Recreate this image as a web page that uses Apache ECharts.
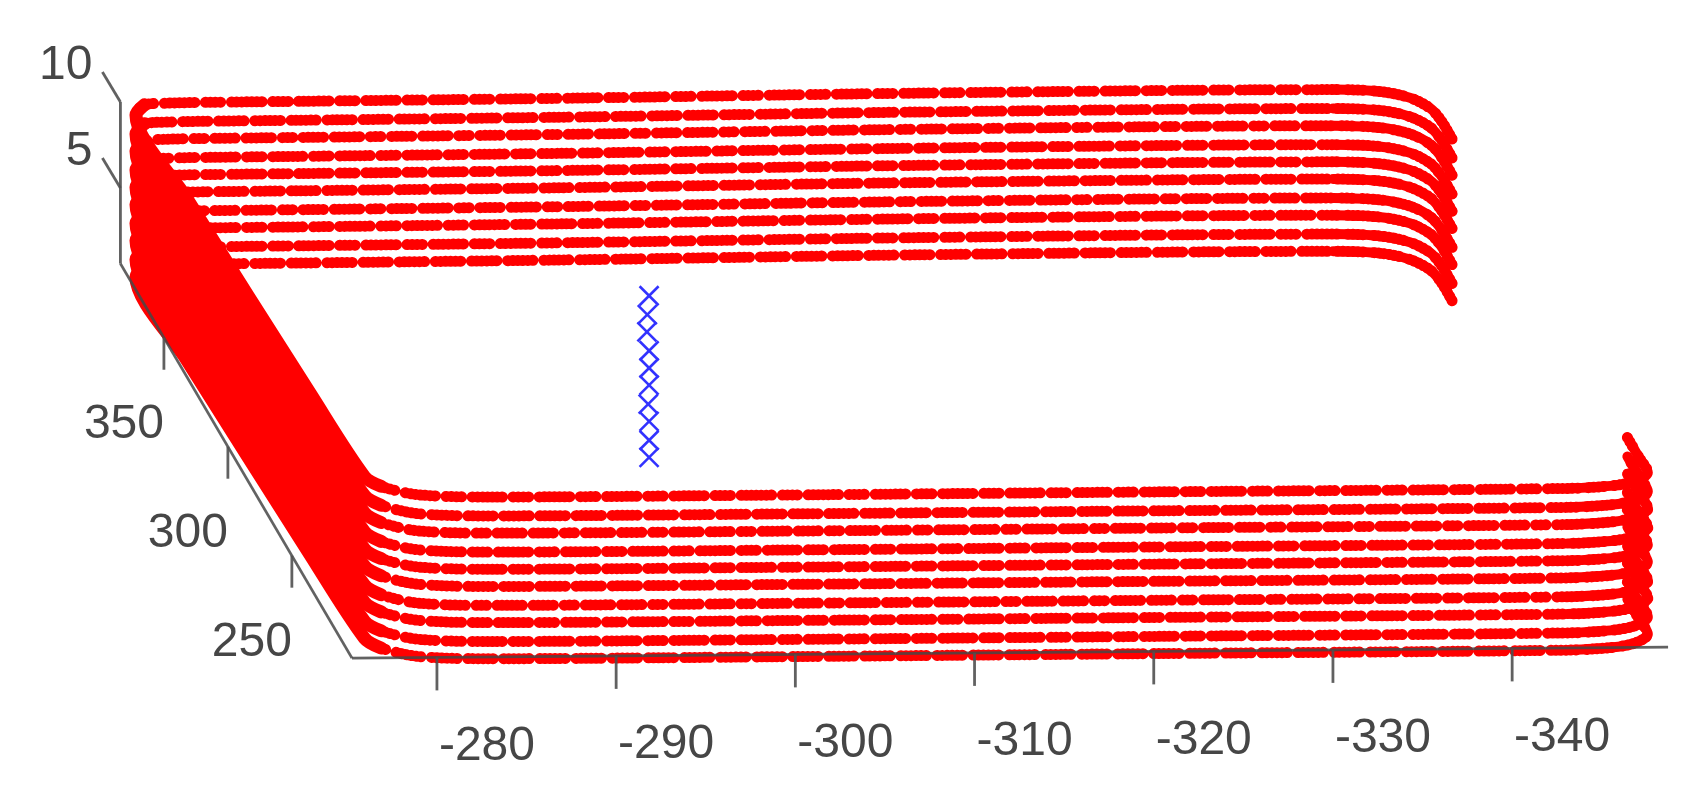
<!DOCTYPE html>
<html><head><meta charset="utf-8">
<style>html,body{margin:0;padding:0;background:#fff}#c{width:1703px;height:805px;filter:blur(0.7px)}</style>
<script src="https://cdn.jsdelivr.net/npm/echarts@6/dist/echarts.min.js"></script>
</head><body><div id="c"></div>
<script>
// ---- values ----
const xTicks = [-280,-290,-300,-310,-320,-330,-340];
const yTicks = [250,300,350];
const zTicks = [5,10];
const layerZ = [0.6,1.6,2.7,3.7,4.8,5.8,6.8,7.9,8.9,10];
// one pass of the track, upper-right end -> left band -> lower-right end
const trackX = [-348,-348,-347.8,-347,-345.5,-343,-320,-300,-285,-280,-278,-276.5,-275.7,-275.8,-276.3,-276.6,-277.2,-279,-283,-300,-320,-343,-345.5,-347,-348,-348,-348];
const trackY = [362,370,376,381,384,385,385,384,383.6,383.5,383.3,382.6,378,340,250,212,207.5,203.5,202.2,202,202,202,203,205,209,216,225];
const crossX = [-298.3,-298.3,-298.3,-298.25,-298.3,-298.3,-298.3,-298.18,-298.2,-298.3];
const crossY = [293.5,293.5,293.5,293.5,293.5,293.5,293.5,293.5,293.5,293.5];
const axisCorner = {x:-275.26, y:203, z:0.6};
const axisEnd = {x:-348.7, y:384, z:10};

// ---- projection of the 3-D view onto the plot plane ----
const shearX = 0.0714, shearZ = 0.1267, tilt = 0.00872;
function project(x,y,z){
  return [x + shearX*(y-axisCorner.y),
          z + shearZ*(y-axisCorner.y) + tilt*(axisCorner.x-x)];
}
const c = axisCorner, e = axisEnd;
const axisLines = [
  [project(c.x,c.y,c.z), project(e.x,c.y,c.z)],
  [project(c.x,c.y,c.z), project(c.x,e.y,c.z)],
  [project(c.x,e.y,c.z), project(c.x,e.y,e.z)]
];
const dashes = [
  [.5,4.5,.5,4.5,.5,4.5,.5,4.5,.5,4.5,.5,10.6],
  [.5,4.5,.5,4.5,.5,4.5,.5,4.5,.5,4.5,.5,4.5,.5,10.6,.5,4.5,.5,4.5,.5,4.5,.5,10.6],
  [.5,4.5,.5,4.5,.5,4.5,.5,10.6,.5,4.5,.5,4.5,.5,4.5,.5,4.5,.5,4.5,.5,4.5,.5,10.6],
  [.5,4.5,.5,4.5,.5,4.5,.5,4.5,.5,10.6,.5,4.5,.5,4.5,.5,10.6,.5,4.5,.5,4.5,.5,4.5,.5,4.5,.5,4.5,.5,10.6]
];
const laneSeries = layerZ.map((z,i)=>({
  name:'Layer '+(i+1), type:'line', showSymbol:false, silent:true, z:2, clip:false, smooth:0.3,
  data:trackX.map((x,k)=>project(x,trackY[k],z)),
  lineStyle:{color:'#ff0000',width:11,cap:'round',join:'round',type:dashes[i%dashes.length]}
}));
// the left band and the two right-hand ends overlap into solid red
const solidParts = [[0,6],[11,17],[21,27]];
const solidSeries = layerZ.flatMap((z,i)=>solidParts.map(([a,b])=>({
  name:'Layer '+(i+1)+' turn', type:'line', showSymbol:false, silent:true, z:2, clip:false, smooth:0.3,
  data:trackX.slice(a,b).map((x,k)=>project(x,trackY[a+k],z)),
  lineStyle:{color:'#ff0000',width:a===11?13:10,cap:'round',join:'round'}
})));
function lineRender(params,api){
  const a=api.coord([api.value(0),api.value(1)]), b=api.coord([api.value(2),api.value(3)]);
  return {type:'line',shape:{x1:a[0],y1:a[1],x2:b[0],y2:b[1]},
    style:{stroke:'rgba(70,70,70,0.85)',lineWidth:2.8}};
}
function tickRender(params,api){
  const a=api.coord([api.value(0),api.value(1)]), dx=api.value(2), dy=api.value(3);
  return {type:'line',shape:{x1:a[0],y1:a[1],x2:a[0]+dx,y2:a[1]+dy},
    style:{stroke:'rgba(80,80,80,0.9)',lineWidth:2.8}};
}
function textRender(params,api){
  const a=api.coord([api.value(0),api.value(1)]);
  return {type:'text',x:a[0]+api.value(2),y:a[1]+api.value(3),
    style:{text:String(api.value(4)),fill:'#464646',font:'48px "Liberation Sans"',
      align:api.value(5)?'right':'center',verticalAlign:'middle'}};
}
const tickData = [
  ...xTicks.map(v=>[...project(v,c.y,c.z),0,33]),
  ...yTicks.map(v=>[...project(c.x,v,c.z),0,32]),
  ...zTicks.map(v=>[...project(c.x,e.y,v),-18,-30])
];
const labelData = [
  ...xTicks.map(v=>[...project(v,c.y,c.z),50,89,v,0]),
  ...yTicks.map(v=>[...project(c.x,v,c.z),-40,87,v,0]),
  ...zTicks.map(v=>[...project(c.x,e.y,v),-28,-36,v,1])
];
const option = {
  animation:false, backgroundColor:'#fff',
  grid:{left:0,right:0,top:0,bottom:0},
  xAxis:{type:'value',inverse:true,min:-350.65,max:-255.617,show:false},
  yAxis:{type:'value',min:-7.94,max:38.86,show:false},
  series:[
    ...laneSeries,
    ...solidSeries,
    {type:'custom',name:'Targets',z:3,silent:true,clip:false,
     data:crossX.map((x,i)=>project(x,crossY[i],layerZ[i])),
     renderItem(params,api){
       const p=api.coord([api.value(0),api.value(1)]), r=9.5;
       return {type:'group',children:[
         {type:'line',shape:{x1:p[0]-r,y1:p[1]-r,x2:p[0]+r,y2:p[1]+r},style:{stroke:'#3232ff',lineWidth:2.6}},
         {type:'line',shape:{x1:p[0]-r,y1:p[1]+r,x2:p[0]+r,y2:p[1]-r},style:{stroke:'#3232ff',lineWidth:2.6}}
       ]};
     }},
    {type:'custom',name:'Axes',z:4,silent:true,clip:false,
     data:axisLines.map(l=>[l[0][0],l[0][1],l[1][0],l[1][1]]),renderItem:lineRender},
    {type:'custom',name:'Ticks',z:4,silent:true,clip:false,data:tickData,renderItem:tickRender},
    {type:'custom',name:'Tick labels',z:4,silent:true,clip:false,data:labelData,renderItem:textRender}
  ]
};
echarts.init(document.getElementById('c')).setOption(option);
</script></body></html>
